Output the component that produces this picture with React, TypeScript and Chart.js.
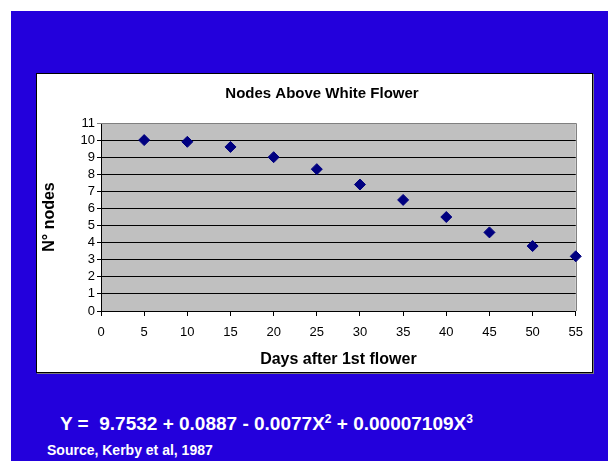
import React, { useEffect, useRef } from "react";
import { Chart, registerables } from "chart.js";

Chart.register(...registerables);

const chartTitle = "Nodes Above White Flower";
const xAxisTitle = "Days after 1st flower";
const yAxisTitle = "N° nodes";
const days = [5, 10, 15, 20, 25, 30, 35, 40, 45, 50, 55];
const nodes = [10, 9.9, 9.6, 9.0, 8.3, 7.4, 6.5, 5.5, 4.6, 3.8, 3.2];
const xMin = 0;
const xMax = 55;
const xStep = 5;
const yMin = 0;
const yMax = 11;
const yStep = 1;

const FONT = "'Liberation Sans', Arial, Helvetica, sans-serif";
const BLUE = "#2300DC";

const plotBg = {
  id: "plotBg",
  beforeDraw(chart: any) {
    const { ctx, chartArea } = chart;
    const { left, top, right, bottom } = chartArea;
    ctx.save();
    ctx.fillStyle = "#C0C0C0";
    ctx.fillRect(left, top, right - left, bottom - top);
    ctx.restore();
  },
  beforeDatasetsDraw(chart: any) {
    const { ctx, chartArea } = chart;
    const { left, top, right, bottom } = chartArea;
    ctx.save();
    ctx.strokeStyle = "#808080";
    ctx.lineWidth = 1;
    ctx.beginPath();
    ctx.moveTo(left, Math.round(top) + 0.5);
    ctx.lineTo(Math.round(right) + 0.5, Math.round(top) + 0.5);
    ctx.lineTo(Math.round(right) + 0.5, bottom);
    ctx.stroke();
    ctx.restore();
  },
  afterDraw(chart: any) {
    const { ctx } = chart;
    ctx.save();
    ctx.fillStyle = "#000";
    ctx.font = `bold 15px ${FONT}`;
    ctx.textAlign = "center";
    ctx.textBaseline = "middle";
    ctx.fillText(chartTitle, 285, 19.5);
    ctx.restore();
  },
};

function ScatterChart() {
  const ref = useRef<HTMLCanvasElement | null>(null);
  useEffect(() => {
    if (!ref.current) return;
    const chart = new Chart(ref.current, {
      type: "scatter",
      data: {
        datasets: [
          {
            label: "Nodes",
            data: days.map((d, i) => ({ x: d, y: nodes[i] })),
            pointStyle: "rectRot",
            pointRadius: 5.5,
            pointHoverRadius: 5.5,
            backgroundColor: "#000080",
            borderColor: "#000080",
            borderWidth: 1,
            clip: false,
          },
        ],
      },
      options: {
        responsive: false,
        animation: false,
        events: [],
        layout: { padding: { left: 0, right: 16, top: 49, bottom: 0 } },
        plugins: {
          legend: { display: false },
          tooltip: { enabled: false },
          title: { display: false },
        },
        scales: {
          x: {
            type: "linear",
            min: xMin,
            max: xMax,
            afterFit(scale: any) {
              scale.height = 61;
            },
            ticks: {
              stepSize: xStep,
              autoSkip: false,
              color: "#000",
              font: { family: FONT, size: 13 },
              padding: 9,
              maxRotation: 0,
            },
            grid: {
              drawOnChartArea: false,
              drawTicks: true,
              tickLength: 5,
              color: "#000",
            },
            border: { display: true, color: "#000", width: 1 },
            title: {
              display: true,
              text: xAxisTitle,
              color: "#000",
              font: { family: FONT, size: 16, weight: "bold" },
              padding: { top: 0, bottom: 3 },
            },
          },
          y: {
            type: "linear",
            min: yMin,
            max: yMax,
            afterFit(scale: any) {
              scale.width = 64;
            },
            ticks: {
              stepSize: yStep,
              autoSkip: false,
              color: "#000",
              font: { family: FONT, size: 13 },
              padding: 2,
            },
            grid: {
              drawTicks: true,
              tickLength: 4,
              color: (c: any) => (c.tick && c.tick.value === yMax ? "#808080" : "#000"),
            },
            border: { display: true, color: "#000", width: 1 },
            title: {
              display: true,
              text: yAxisTitle,
              color: "#000",
              font: { family: FONT, size: 16, weight: "bold" },
              padding: { top: 3, bottom: 0 },
            },
          },
        },
      },
      plugins: [plotBg],
    } as any);
    return () => chart.destroy();
  }, []);
  return <canvas ref={ref} width={555} height={298} style={{ display: "block" }} />;
}

export default function App() {
  return (
    <div style={{ position: "absolute", left: 0, top: 0, width: 608, height: 461, overflow: "hidden", background: "#fff" }}>
      <div style={{ position: "absolute", left: 11, top: 11, width: 597, height: 450, background: BLUE }} />
      <div
        style={{
          position: "absolute",
          left: 36,
          top: 73,
          width: 557,
          height: 300,
          boxSizing: "border-box",
          border: "1px solid #000",
          background: "#fff",
          boxShadow: "1px 1px 0 #7a7a7a",
        }}
      >
        <ScatterChart />
      </div>
      <div
        style={{
          position: "absolute",
          left: 60,
          top: 412,
          color: "#fff",
          fontFamily: FONT,
          fontWeight: "bold",
          fontSize: 19,
          lineHeight: "23px",
          whiteSpace: "pre",
        }}
      >
        {"Y =  9.7532 + 0.0887 - 0.0077X"}
        <span style={{ fontSize: 12, verticalAlign: "7px", lineHeight: 0 }}>2</span>
        {" + 0.00007109X"}
        <span style={{ fontSize: 12, verticalAlign: "7px", lineHeight: 0 }}>3</span>
      </div>
      <div
        style={{
          position: "absolute",
          left: 47,
          top: 442,
          color: "#fff",
          fontFamily: FONT,
          fontWeight: "bold",
          fontSize: 14,
          lineHeight: "17px",
          whiteSpace: "pre",
        }}
      >
        Source, Kerby et al, 1987
      </div>
    </div>
  );
}
